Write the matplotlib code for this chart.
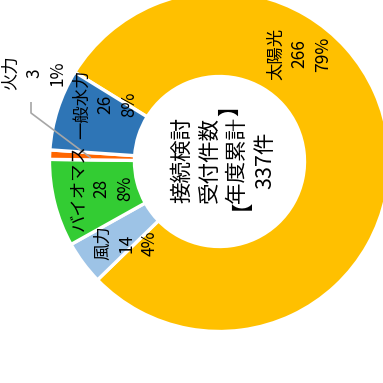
import matplotlib
matplotlib.use("Agg")
import matplotlib.pyplot as plt

plt.rcParams['font.family'] = ['Noto Sans CJK JP', 'DejaVu Sans']

# Data
categories = ["太陽光", "風力", "バイオマス", "火力", "一般水力"]
values = [266, 14, 28, 3, 26]
percents = ["79%", "4%", "8%", "1%", "8%"]
colors = ["#FFC000", "#9DC3E6", "#33CC33", "#FF6600", "#2E75B6"]
center_lines = ["接続検討", "受付件数", "年度累計", "337件"]
bracket_open, bracket_close = "【", "】"

# Layout (pixel positions in a 383x383 image)
CX, CY, R = 219.5, 161.5, 170.0
label_px = [(298, 54), (125, 243), (100, 188), (33, 73), (104, 104)]
label_step = 23.5
label_fs = 12.5
leader_px = [(31, 102), (31, 113), (91, 158)]
center_px = (221.5, 160)
center_step = 27.7
center_fs = 15.5


def px(x, y):
    return ((x - CX) / R, (CY - y) / R)


def vtext(xc, yc, s, fs):
    # rotated text whose visual centre is at pixel (xc, yc)
    off = 0.37 * fs * 100 / 72.0
    x, y = px(xc + off, yc)
    ax.text(x, y, s, rotation=90, rotation_mode="anchor", ha="center",
            va="baseline", fontsize=fs, color="black")


fig = plt.figure(figsize=(3.83, 3.83), dpi=100)
ax = fig.add_axes([0, 0, 1, 1])
ax.pie(values, colors=colors, startangle=148.3, counterclock=False,
       radius=1.0, wedgeprops=dict(width=0.5, edgecolor="white", linewidth=2.4))

ax.set_xlim(-CX / R, (383 - CX) / R)
ax.set_ylim((CY - 383) / R, CY / R)
ax.set_aspect("equal")
ax.axis("off")

for cat, v, p, pos in zip(categories, values, percents, label_px):
    lines = [cat, str(v), p]
    for i, line in enumerate(lines):
        vtext(pos[0] + (i - 1) * label_step, pos[1], line, label_fs)

lx, ly = zip(*[px(*p) for p in leader_px])
ax.plot(lx, ly, color="#A6A6A6", linewidth=1.2, solid_capstyle="butt")

n = len(center_lines)
em = center_fs * 100 / 72.0
for i, line in enumerate(center_lines):
    xc = center_px[0] + (i - (n - 1) / 2) * center_step
    vtext(xc, center_px[1], line, center_fs)
    if i == 2:
        # brackets drawn separately (their glyph ink is offset when rotated)
        corr = 0.33 * em
        vtext(xc - corr, center_px[1] + 46 - corr, bracket_open, center_fs)
        vtext(xc - corr, center_px[1] - 48 - corr, bracket_close, center_fs)

fig.savefig("out.png", dpi=100)
